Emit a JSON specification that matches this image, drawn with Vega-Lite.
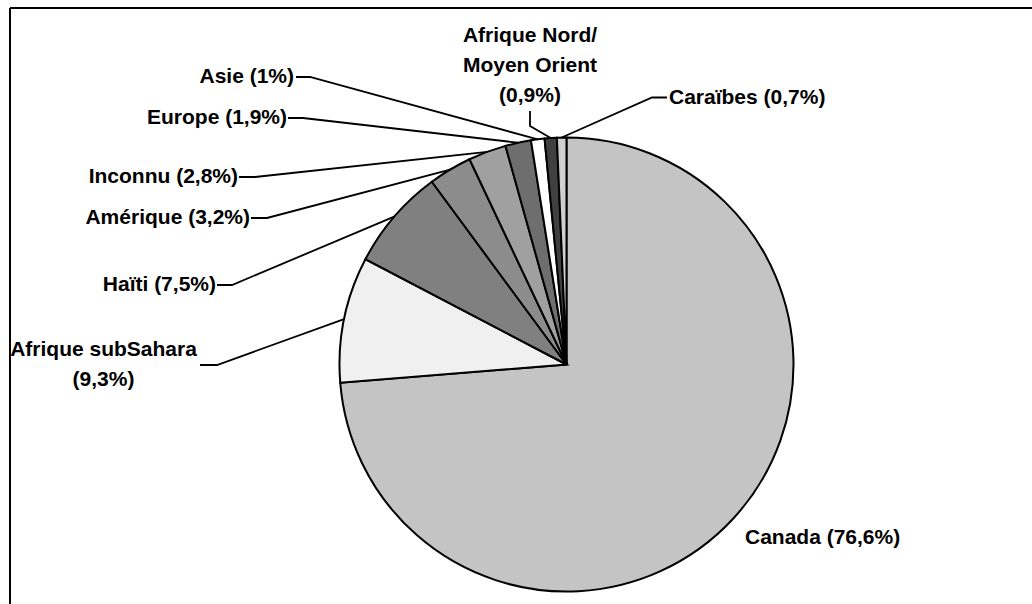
{
  "$schema": "https://vega.github.io/schema/vega-lite/v6.json",
  "width": 1022,
  "height": 596,
  "padding": {"left": 10, "top": 8, "right": 0, "bottom": 0},
  "autosize": {"type": "none"},
  "background": "white",
  "config": {"view": {"stroke": null}},
  "datasets": {
    "slices": [
      {"name": "Canada", "value": 76.6, "k": 1},
      {"name": "Afrique subSahara", "value": 9.3, "k": 2},
      {"name": "Haïti", "value": 7.5, "k": 3},
      {"name": "Amérique", "value": 3.2, "k": 4},
      {"name": "Inconnu", "value": 2.8, "k": 5},
      {"name": "Europe", "value": 1.9, "k": 6},
      {"name": "Asie", "value": 1.0, "k": 7},
      {"name": "Afrique Nord/Moyen Orient", "value": 0.9, "k": 8},
      {"name": "Caraïbes", "value": 0.7, "k": 9}
    ],
    "labels": [
      {"name": "Asie", "label": "Asie (1%)", "x": -1.2004, "y": 1.2665},
      {"name": "Europe", "label": "Europe (1,9%)", "x": -1.2313, "y": 1.0859},
      {"name": "Inconnu", "label": "Inconnu (2,8%)", "x": -1.4471, "y": 0.8260},
      {"name": "Amérique", "label": "Amérique (3,2%)", "x": -1.3943, "y": 0.6454},
      {"name": "Haïti", "label": "Haïti (7,5%)", "x": -1.5441, "y": 0.3502},
      {"name": "Afrique subSahara", "label": "Afrique subSahara\n(9,3%)", "x": -2.0396, "y": 0.0617},
      {"name": "Afrique Nord/Moyen Orient", "label": "Afrique Nord/\nMoyen Orient\n(0,9%)", "x": -0.1608, "y": 1.4493},
      {"name": "Caraïbes", "label": "Caraïbes (0,7%)", "x": 0.4515, "y": 1.1740},
      {"name": "Canada", "label": "Canada (76,6%)", "x": 0.7863, "y": -0.7643}
    ],
    "leaders": [
      {"name": "Asie", "seq": 1, "x": -1.1916, "y": 1.2665},
      {"name": "Asie", "seq": 2, "x": -1.1300, "y": 1.2665},
      {"name": "Asie", "seq": 3, "x": -0.1267, "y": 0.9919},
      {"name": "Europe", "seq": 1, "x": -1.2269, "y": 1.0859},
      {"name": "Europe", "seq": 2, "x": -1.1608, "y": 1.0859},
      {"name": "Europe", "seq": 3, "x": -0.2130, "y": 0.9771},
      {"name": "Inconnu", "seq": 1, "x": -1.4427, "y": 0.8260},
      {"name": "Inconnu", "seq": 2, "x": -1.3722, "y": 0.8260},
      {"name": "Inconnu", "seq": 3, "x": -0.3492, "y": 0.9371},
      {"name": "Amérique", "seq": 1, "x": -1.3899, "y": 0.6454},
      {"name": "Amérique", "seq": 2, "x": -1.3194, "y": 0.6454},
      {"name": "Amérique", "seq": 3, "x": -0.5126, "y": 0.8586},
      {"name": "Haïti", "seq": 1, "x": -1.5396, "y": 0.3502},
      {"name": "Haïti", "seq": 2, "x": -1.4736, "y": 0.3502},
      {"name": "Haïti", "seq": 3, "x": -0.7589, "y": 0.6512},
      {"name": "Afrique subSahara", "seq": 1, "x": -1.6145, "y": -0.0022},
      {"name": "Afrique subSahara", "seq": 2, "x": -1.5396, "y": -0.0022},
      {"name": "Afrique subSahara", "seq": 3, "x": -0.9799, "y": 0.1997},
      {"name": "Afrique Nord/Moyen Orient", "seq": 1, "x": -0.1608, "y": 1.1167},
      {"name": "Afrique Nord/Moyen Orient", "seq": 2, "x": -0.1608, "y": 1.0507},
      {"name": "Afrique Nord/Moyen Orient", "seq": 3, "x": -0.0696, "y": 0.9976},
      {"name": "Caraïbes", "seq": 1, "x": 0.4427, "y": 1.1762},
      {"name": "Caraïbes", "seq": 2, "x": 0.3767, "y": 1.1762},
      {"name": "Caraïbes", "seq": 3, "x": -0.0211, "y": 0.9998}
    ]
  },
  "layer": [
    {
      "data": {"name": "slices"},
      "mark": {"type": "arc", "outerRadius": 227, "stroke": "black", "strokeWidth": 2},
      "encoding": {
        "x": {"datum": 0, "type": "quantitative", "scale": {"domain": [-2.45154, 2.05066], "nice": false, "zero": false}, "axis": null},
        "y": {"datum": 0, "type": "quantitative", "scale": {"domain": [-1.05507, 1.57048], "nice": false, "zero": false}, "axis": null},
        "theta": {"field": "value", "type": "quantitative", "stack": true},
        "order": {"field": "k", "type": "quantitative"},
        "color": {
          "field": "name", "type": "nominal", "legend": null,
          "scale": {
            "domain": ["Canada", "Afrique subSahara", "Haïti", "Amérique", "Inconnu", "Europe", "Asie", "Afrique Nord/Moyen Orient", "Caraïbes"],
            "range": ["#c4c4c4", "#f0f0f0", "#808080", "#8c8c8c", "#a0a0a0", "#6e6e6e", "#ffffff", "#404040", "#d0d0d0"]
          }
        }
      }
    },
    {
      "data": {"name": "leaders"},
      "mark": {"type": "line", "color": "black", "strokeWidth": 1.8},
      "encoding": {
        "x": {"field": "x", "type": "quantitative", "scale": {"domain": [-2.45154, 2.05066], "nice": false, "zero": false}, "axis": null},
        "y": {"field": "y", "type": "quantitative", "scale": {"domain": [-1.05507, 1.57048], "nice": false, "zero": false}, "axis": null},
        "detail": {"field": "name", "type": "nominal"},
        "order": {"field": "seq", "type": "quantitative"}
      }
    },
    {
      "data": {"name": "labels"},
      "transform": [{"filter": {"field": "name", "oneOf": ["Asie", "Europe", "Inconnu", "Amérique", "Haïti"]}}],
      "mark": {"type": "text", "align": "right", "baseline": "middle", "font": "Liberation Sans", "fontWeight": "bold", "fontSize": 21, "color": "black"},
      "encoding": {
        "x": {"field": "x", "type": "quantitative", "scale": {"domain": [-2.45154, 2.05066], "nice": false, "zero": false}, "axis": null},
        "y": {"field": "y", "type": "quantitative", "scale": {"domain": [-1.05507, 1.57048], "nice": false, "zero": false}, "axis": null},
        "text": {"field": "label", "type": "nominal"}
      }
    },
    {
      "data": {"name": "labels"},
      "transform": [{"filter": {"field": "name", "oneOf": ["Afrique subSahara", "Afrique Nord/Moyen Orient"]}}],
      "mark": {"type": "text", "align": "center", "baseline": "middle", "lineBreak": "\n", "lineHeight": 30, "font": "Liberation Sans", "fontWeight": "bold", "fontSize": 21, "color": "black"},
      "encoding": {
        "x": {"field": "x", "type": "quantitative", "scale": {"domain": [-2.45154, 2.05066], "nice": false, "zero": false}, "axis": null},
        "y": {"field": "y", "type": "quantitative", "scale": {"domain": [-1.05507, 1.57048], "nice": false, "zero": false}, "axis": null},
        "text": {"field": "label", "type": "nominal"}
      }
    },
    {
      "data": {"name": "labels"},
      "transform": [{"filter": {"field": "name", "oneOf": ["Caraïbes", "Canada"]}}],
      "mark": {"type": "text", "align": "left", "baseline": "middle", "font": "Liberation Sans", "fontWeight": "bold", "fontSize": 21, "color": "black"},
      "encoding": {
        "x": {"field": "x", "type": "quantitative", "scale": {"domain": [-2.45154, 2.05066], "nice": false, "zero": false}, "axis": null},
        "y": {"field": "y", "type": "quantitative", "scale": {"domain": [-1.05507, 1.57048], "nice": false, "zero": false}, "axis": null},
        "text": {"field": "label", "type": "nominal"}
      }
    },
    {
      "data": {"values": [{"edge": "left"}]},
      "mark": {"type": "rule", "color": "black", "strokeWidth": 2},
      "encoding": {"x": {"value": 0}}
    },
    {
      "data": {"values": [{"edge": "top"}]},
      "mark": {"type": "rule", "color": "black", "strokeWidth": 2},
      "encoding": {"y": {"value": 0}}
    }
  ]
}
